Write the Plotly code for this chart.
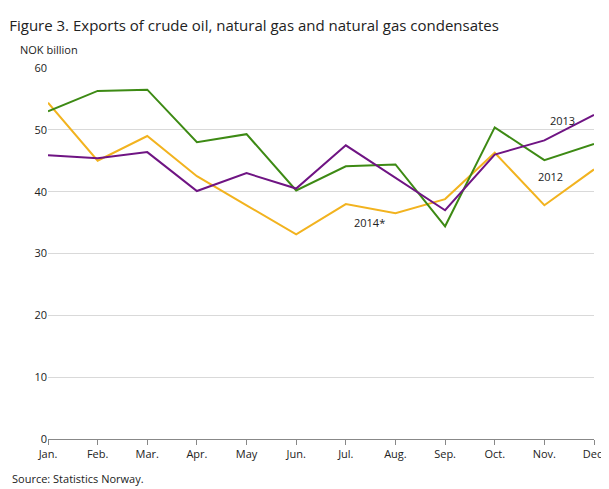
import plotly.graph_objects as go

months = ["Jan.", "Feb.", "Mar.", "Apr.", "May", "Jun.", "Jul.", "Aug.", "Sep.", "Oct.", "Nov.", "Dec."]
y2012 = [53.0, 56.3, 56.5, 48.0, 49.3, 40.2, 44.1, 44.4, 34.4, 50.4, 45.1, 47.7]
y2013 = [45.9, 45.4, 46.4, 40.1, 43.0, 40.5, 47.5, 42.2, 37.0, 46.0, 48.3, 52.4]
y2014 = [54.4, 45.0, 49.0, 42.5, 37.8, 33.1, 38.0, 36.5, 38.8, 46.3, 37.8, 43.6]

fig = go.Figure()
fig.add_trace(go.Scatter(x=months, y=y2014, mode="lines", name="2014*", line=dict(color="#f2b31f", width=2)))
fig.add_trace(go.Scatter(x=months, y=y2012, mode="lines", name="2012", line=dict(color="#3d8a14", width=2)))
fig.add_trace(go.Scatter(x=months, y=y2013, mode="lines", name="2013", line=dict(color="#6f1483", width=2)))

# series labels
fig.add_annotation(x="Nov.", y=51.5, text="2013", showarrow=False, xshift=18)
fig.add_annotation(x="Nov.", y=42.5, text="2012", showarrow=False, xshift=6)
fig.add_annotation(x="Jul.", y=35.0, text="2014*", showarrow=False, xshift=24)

fig.update_layout(
    width=609, height=489,
    margin=dict(l=40, r=12, t=60, b=58),
    paper_bgcolor="white", plot_bgcolor="white",
    font=dict(family="Open Sans", size=11, color="#222"),
    showlegend=False,
    title=dict(text="Figure 3. Exports of crude oil, natural gas and natural gas condensates",
               x=0.002, xanchor="left", y=0.975, font=dict(size=15)),
)
fig.add_annotation(text="NOK billion", xref="paper", yref="paper", x=-0.055, y=1.025,
                   xanchor="left", yanchor="bottom", showarrow=False)
fig.add_annotation(text="Source: Statistics Norway.", xref="paper", yref="paper", x=-0.07, y=-0.08,
                   xanchor="left", yanchor="top", showarrow=False, font=dict(size=11))
fig.update_xaxes(range=[0, 11], showline=True, linecolor="#888", ticks="outside",
                 tickcolor="#888", ticklen=5, showgrid=False)
fig.update_yaxes(range=[0, 60], dtick=10, gridcolor="#d9d9d9", zeroline=False,
                 showline=False)
fig.write_html("out.html")
